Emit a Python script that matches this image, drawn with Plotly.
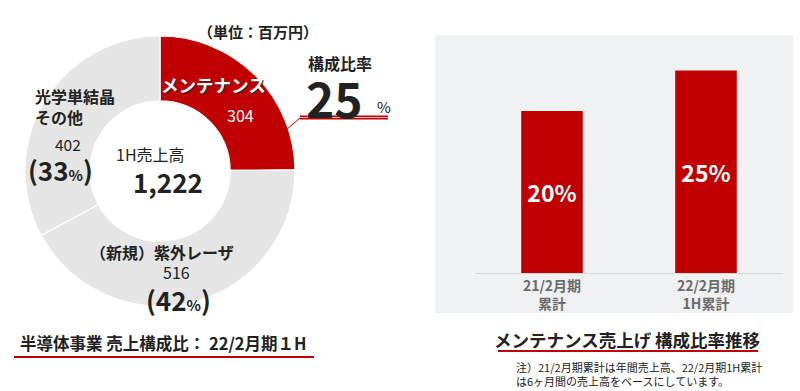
import plotly.graph_objects as go

# ---- data ----
pie_labels = ["メンテナンス", "（新規）紫外レーザ", "光学単結晶<br>その他"]
pie_values = [304, 516, 402]
pie_pct = [25, 42, 33]
total_sales = "1,222"

bar_categories = ["21/2月期<br>累計", "22/2月期<br>1H累計"]
bar_values = [20, 25]

RED = "#c00000"
GRAY = "#e5e5e5"
PANEL = "#f0f1f2"
FONT = "Noto Sans CJK JP"

W, H = 800, 391


def px(x):
    return x / W


def py(y):
    return 1 - y / H


fig = go.Figure()

# donut
cx, cy, r = 160, 171, 135
fig.add_trace(go.Pie(
    labels=pie_labels, values=pie_values, sort=False, direction="clockwise", rotation=0,
    hole=0.52, textinfo="none", hoverinfo="skip", showlegend=False,
    marker=dict(colors=[RED, GRAY, GRAY], line=dict(color="white", width=1.2)),
    domain=dict(x=[px(cx - r), px(cx + r)], y=[py(cy + r), py(cy - r)]),
))

# bars
fig.add_trace(go.Bar(
    x=bar_categories, y=bar_values, marker=dict(color=RED, line=dict(width=0)),
    width=0.4, text=[f"{v}%" for v in bar_values], textposition="inside",
    insidetextanchor="middle", textangle=0,
    textfont=dict(family=FONT, size=23, color="white", weight="bold"),
    hoverinfo="skip", showlegend=False,
))

ybase, ytop = 273, 50
scale = 8.1  # px per %
fig.update_layout(
    width=W, height=H, margin=dict(l=0, r=0, t=0, b=0),
    paper_bgcolor="white", plot_bgcolor=PANEL,
    font=dict(family=FONT, color="#222"),
    xaxis=dict(domain=[px(475), px(783)], range=[-0.5, 1.5], showgrid=False, zeroline=False,
               showline=True, linecolor="#d8d8d8", linewidth=1, ticks="",
               tickfont=dict(family=FONT, size=14, color="#6b6b6b", weight="bold")),
    yaxis=dict(domain=[py(ybase), py(ytop)], range=[0, (ybase - ytop) / scale],
               visible=False, showgrid=False, zeroline=False),
)

shapes = [
    # right gray panel
    dict(type="rect", xref="paper", yref="paper", x0=px(435), x1=px(793), y0=py(313), y1=py(35),
         fillcolor=PANEL, line=dict(width=0), layer="below"),
    # 25% underline (double)
    dict(type="line", xref="paper", yref="paper", x0=px(300), x1=px(388), y0=py(117.5), y1=py(117.5),
         line=dict(color=RED, width=4)),
    dict(type="line", xref="paper", yref="paper", x0=px(300), x1=px(388), y0=py(117.5), y1=py(117.5),
         line=dict(color="#f3b3b3", width=1)),
    # connector
    dict(type="line", xref="paper", yref="paper", x0=px(286), x1=px(300), y0=py(130), y1=py(118),
         line=dict(color=RED, width=1)),
    # left title underline
    dict(type="line", xref="paper", yref="paper", x0=px(14), x1=px(314), y0=py(357), y1=py(357),
         line=dict(color=RED, width=2)),
    # right title underline
    dict(type="line", xref="paper", yref="paper", x0=px(498), x1=px(758), y0=py(351), y1=py(351),
         line=dict(color=RED, width=2)),
]
fig.update_layout(shapes=shapes)


def ann(x, y, text, size, color="#222", weight="bold", anchor="center", shadow=None, align="center"):
    f = dict(family=FONT, size=size, color=color, weight=weight)
    if shadow:
        f["shadow"] = shadow
    fig.add_annotation(x=px(x), y=py(y), xref="paper", yref="paper", text=text, showarrow=False,
                       xanchor=anchor, yanchor="middle", font=f, align=align)


def pct_text(p):
    return f"(<span style='font-size:26px'>{p}</span><span style='font-size:15px'>%</span>)"


ann(258, 32, "（単位：百万円）", 15)
ann(159, 85, pie_labels[0], 17.5, color="white", anchor="left", shadow="1px 1px 1px #222")
ann(240, 115, str(pie_values[0]), 16, color="white", weight="normal")
ann(306, 63, "構成比率", 16, anchor="left")
ann(304, 97, f"{pie_pct[0]}", 48, anchor="left", weight="bold")
ann(375, 107, "%", 15, anchor="left", weight="normal")

ann(33, 107, pie_labels[2], 16, anchor="left", align="left")
ann(68, 144, str(pie_values[2]), 15.5, weight="normal")
ann(60, 169, pct_text(pie_pct[2]), 26, weight="bold")

ann(150, 154, "1H売上高", 16, weight="normal")
ann(168, 181, total_sales, 26, weight="bold")

ann(162, 252, pie_labels[1], 16)
ann(176, 272, str(pie_values[1]), 16, weight="normal")
ann(178, 299, pct_text(pie_pct[1]), 26, weight="bold")

ann(18, 343, "半導体事業 売上構成比： 22/2月期１H", 16.5, anchor="left")
ann(627, 339, "メンテナンス売上げ 構成比率推移", 17.5)
ann(514, 374, "注）21/2月期累計は年間売上高、22/2月期1H累計<br>は6ヶ月間の売上高をベースにしています。",
    11, weight="normal", anchor="left", align="left")

fig.write_html("out.html", config={"displayModeBar": False},
               post_script="document.body.style.margin='0';document.body.style.padding='0';document.body.style.overflow='hidden';")
